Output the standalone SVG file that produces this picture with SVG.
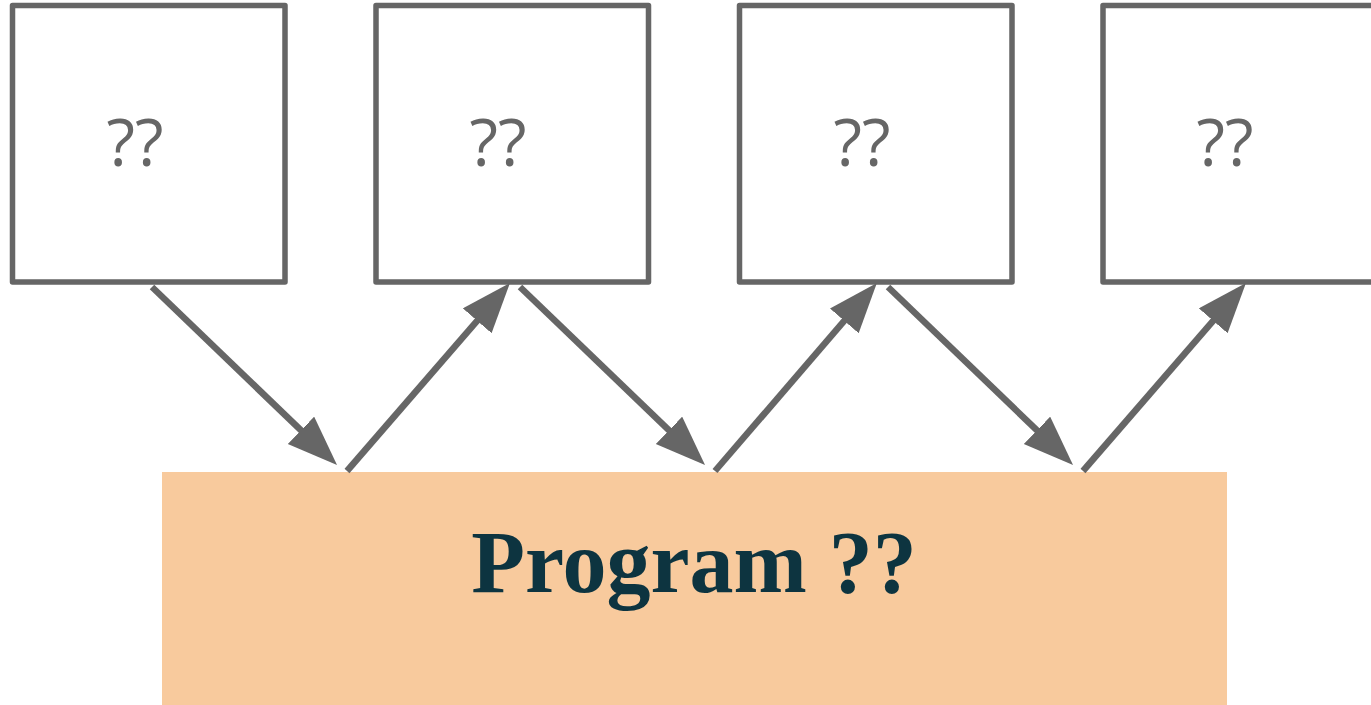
<svg xmlns="http://www.w3.org/2000/svg" width="1371" height="705" viewBox="0 0 1371 705">
  <style>
    .box { fill: #ffffff; stroke: #666666; stroke-width: 5.5; stroke-linejoin: round; }
    .box-label { font-family: "Open Sans", "Noto Sans", sans-serif; font-size: 66px; fill: #666666; text-anchor: middle; }
    .conn { stroke: #666666; stroke-width: 6.5; fill: none; marker-end: url(#head); }
    .program { fill: #f8ca9d; }
    .program-label { font-family: "Liberation Serif", serif; font-weight: bold; font-size: 88px; fill: #0d3440; text-anchor: middle; }
  </style>
  <defs>
    <marker id="head" markerUnits="userSpaceOnUse" markerWidth="52" markerHeight="40" refX="20" refY="19" orient="auto">
      <path d="M0,0 L50,19 L0,38 z" fill="#666666"/>
    </marker>
  </defs>
  <rect width="1371" height="705" fill="#ffffff"/>

  <g id="program">
    <rect class="program" x="162" y="472" width="1065" height="233"/>
    <text class="program-label" x="694" y="592">Program ??</text>
  </g>

  <g id="step1">
    <rect class="box" x="12.5" y="5.5" width="272.5" height="276.5"/>
    <text class="box-label" x="135" y="166">??</text>
  </g>
  <g id="step2">
    <rect class="box" x="376" y="5.5" width="272.5" height="276.5"/>
    <text class="box-label" x="498" y="166">??</text>
  </g>
  <g id="step3">
    <rect class="box" x="739.5" y="5.5" width="272.5" height="276.5"/>
    <text class="box-label" x="862" y="166">??</text>
  </g>
  <g id="step4">
    <rect class="box" x="1103" y="5.5" width="272.5" height="276.5"/>
    <text class="box-label" x="1225" y="166">??</text>
  </g>

  <g id="connectors">
    <line class="conn" x1="152" y1="287" x2="315.4" y2="444.2"/>
    <line class="conn" x1="347" y1="471" x2="490.3" y2="305.7"/>
    <line class="conn" x1="520" y1="287" x2="683.4" y2="444.2"/>
    <line class="conn" x1="715" y1="471" x2="857.3" y2="305.7"/>
    <line class="conn" x1="888" y1="287" x2="1051.4" y2="444.2"/>
    <line class="conn" x1="1083" y1="471" x2="1226.3" y2="305.7"/>
  </g>
</svg>
